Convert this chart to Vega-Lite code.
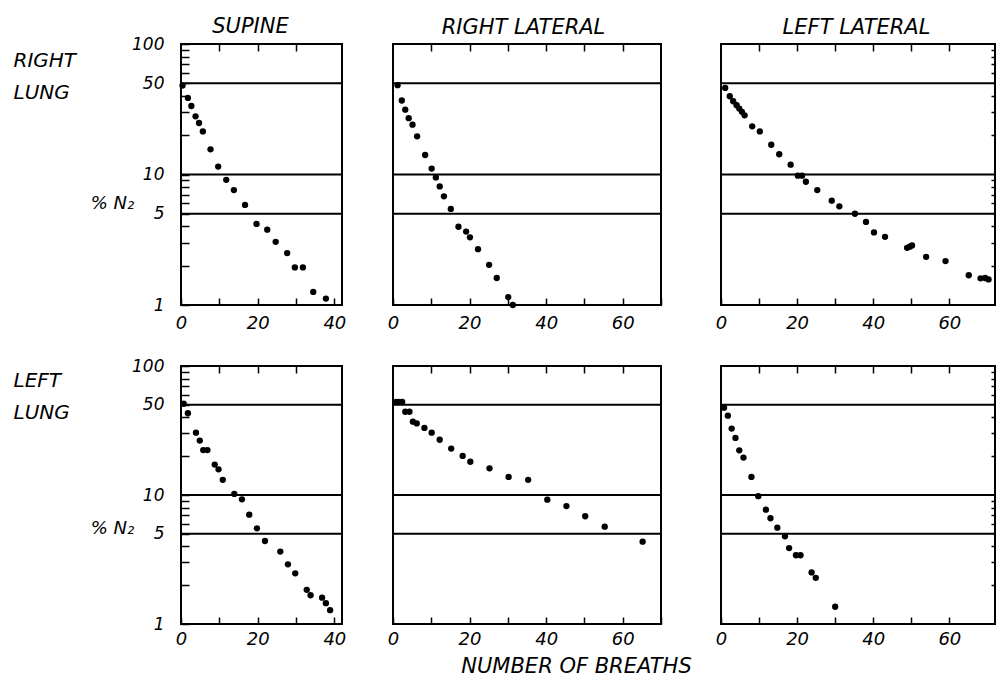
{
"$schema":"https://vega.github.io/schema/vega-lite/v6.json",
"padding":{"left":12,"top":14,"right":0,"bottom":0},
"background":"white",
"config":{
 "view":{"stroke":"black","strokeWidth":2},
 "font":"DejaVu Sans",
 "axis":{"domain":false,"grid":false,"labelFont":"DejaVu Sans","labelFontStyle":"italic","labelFontSize":17,"labelColor":"black","tickColor":"black","tickWidth":1.5,"titleFont":"DejaVu Sans","titleFontStyle":"italic","titleFontWeight":"normal","titleColor":"black","titleFontSize":20,"labelFlush":false,"labelOverlap":false,"titleAngle":0}
},
"datasets":{
 "levels":[{"level":50},{"level":10},{"level":5}],
 "r_sup":[{"breath":0.4,"n2":48},{"breath":1.8,"n2":38.6},{"breath":2.7,"n2":33.5},{"breath":3.8,"n2":27.9},{"breath":4.7,"n2":24.8},{"breath":5.7,"n2":21.4},{"breath":7.7,"n2":15.6},{"breath":9.7,"n2":11.5},{"breath":11.8,"n2":9.1},{"breath":13.8,"n2":7.6},{"breath":16.7,"n2":5.85},{"breath":19.7,"n2":4.18},{"breath":22.5,"n2":3.78},{"breath":24.7,"n2":3.05},{"breath":27.7,"n2":2.5},{"breath":29.7,"n2":1.94},{"breath":31.8,"n2":1.94},{"breath":34.5,"n2":1.26},{"breath":37.8,"n2":1.12}],
 "r_rl":[{"breath":1.2,"n2":48.4},{"breath":2.3,"n2":36.9},{"breath":3.2,"n2":31.4},{"breath":4.1,"n2":27},{"breath":5.1,"n2":24.1},{"breath":6.3,"n2":19.6},{"breath":8.4,"n2":14.1},{"breath":10.1,"n2":11.1},{"breath":11.2,"n2":9.5},{"breath":12.2,"n2":8.1},{"breath":13.3,"n2":6.8},{"breath":15.1,"n2":5.45},{"breath":17.1,"n2":3.98},{"breath":19.1,"n2":3.65},{"breath":20.1,"n2":3.3},{"breath":22.2,"n2":2.68},{"breath":25.1,"n2":2.03},{"breath":27.1,"n2":1.61},{"breath":30.1,"n2":1.15},{"breath":31.3,"n2":1.0}],
 "r_ll":[{"breath":1.1,"n2":46.1},{"breath":2.3,"n2":39.8},{"breath":3.2,"n2":36.4},{"breath":4.1,"n2":34.0},{"breath":4.8,"n2":32.0},{"breath":5.5,"n2":30.2},{"breath":6.2,"n2":28.4},{"breath":8.2,"n2":23.4},{"breath":10.2,"n2":21.4},{"breath":13.2,"n2":16.9},{"breath":15.3,"n2":14.3},{"breath":18.3,"n2":11.9},{"breath":20.2,"n2":9.8},{"breath":21.3,"n2":9.8},{"breath":22.3,"n2":8.8},{"breath":25.3,"n2":7.6},{"breath":29.1,"n2":6.3},{"breath":31.1,"n2":5.7},{"breath":35.2,"n2":5.0},{"breath":38.1,"n2":4.33},{"breath":40.2,"n2":3.6},{"breath":43.1,"n2":3.33},{"breath":48.9,"n2":2.74},{"breath":49.6,"n2":2.8},{"breath":50.2,"n2":2.86},{"breath":53.9,"n2":2.34},{"breath":59.0,"n2":2.17},{"breath":65.1,"n2":1.69},{"breath":68.2,"n2":1.6},{"breath":69.4,"n2":1.61},{"breath":70.3,"n2":1.57}],
 "l_sup":[{"breath":0.7,"n2":51},{"breath":1.8,"n2":43},{"breath":3.9,"n2":30.4},{"breath":4.9,"n2":26.4},{"breath":5.8,"n2":22.3},{"breath":6.9,"n2":22.3},{"breath":8.8,"n2":17.2},{"breath":9.8,"n2":15.8},{"breath":10.9,"n2":13.1},{"breath":13.9,"n2":10.2},{"breath":15.9,"n2":9.25},{"breath":17.8,"n2":7.04},{"breath":19.8,"n2":5.52},{"breath":21.9,"n2":4.4},{"breath":25.9,"n2":3.64},{"breath":27.9,"n2":2.9},{"breath":29.8,"n2":2.47},{"breath":32.8,"n2":1.84},{"breath":33.8,"n2":1.67},{"breath":36.8,"n2":1.6},{"breath":37.8,"n2":1.45},{"breath":38.9,"n2":1.28}],
 "l_rl":[{"breath":0.8,"n2":52.6},{"breath":1.5,"n2":52.6},{"breath":2.4,"n2":52.6},{"breath":3.2,"n2":44.2},{"breath":4.3,"n2":44.2},{"breath":5.2,"n2":37},{"breath":6.2,"n2":35.9},{"breath":8.2,"n2":33.1},{"breath":10.1,"n2":30.4},{"breath":12.2,"n2":26.8},{"breath":15.2,"n2":22.9},{"breath":18.2,"n2":20.1},{"breath":20.2,"n2":18.1},{"breath":25.2,"n2":16.1},{"breath":30.2,"n2":13.8},{"breath":35.3,"n2":13.1},{"breath":40.3,"n2":9.2},{"breath":45.3,"n2":8.2},{"breath":50.2,"n2":6.84},{"breath":55.3,"n2":5.68},{"breath":65.2,"n2":4.35}],
 "l_ll":[{"breath":0.8,"n2":47.5},{"breath":1.8,"n2":41.2},{"breath":2.8,"n2":32.7},{"breath":3.8,"n2":27.7},{"breath":4.8,"n2":22.2},{"breath":5.9,"n2":19.5},{"breath":8.0,"n2":13.8},{"breath":9.8,"n2":9.8},{"breath":11.8,"n2":7.7},{"breath":13.0,"n2":6.6},{"breath":14.8,"n2":5.58},{"breath":16.8,"n2":4.79},{"breath":17.9,"n2":3.88},{"breath":19.7,"n2":3.41},{"breath":20.9,"n2":3.41},{"breath":23.8,"n2":2.51},{"breath":24.9,"n2":2.28},{"breath":30.0,"n2":1.36}]
},
"vconcat":[
 {"hconcat":[
  {"width":161,"height":261,
   "layer":[
    {"data":{"name":"levels"},"mark":{"type":"rule","color":"black","strokeWidth":2},
     "encoding":{
      "y":{"field":"level","type":"quantitative","scale":{"type":"log","domain":[1,100],"nice":false},"axis":{"orient":"left","ticks":false,"labels":false,"title":["RIGHT","LUNG"],"titleX":-168,"titleY":6,"titleAlign":"left","titleBaseline":"top","titleLineHeight":32,"titleFontSize":20}},
      "x":{"datum":0,"type":"quantitative","scale":{"domain":[0,42],"nice":false,"zero":false},"axis":{"orient":"top","values":[10,20,30],"labels":false,"tickSize":-7,"title":"SUPINE","titleX":69,"titleY":-12,"titleAlign":"center","titleBaseline":"alphabetic","titleFontSize":21}},
      "x2":{"datum":42}}},
    {"data":{"name":"r_sup"},"mark":{"type":"circle","size":40,"color":"black","opacity":1},
     "encoding":{
      "x":{"field":"breath","type":"quantitative","axis":{"orient":"bottom","values":[0,10,20,30,40],"labelExpr":"datum.value % 20 == 0 ? datum.value + '' : ''","tickSize":-7,"labelPadding":16,"labelFontSize":18,"title":null}},
      "y":{"field":"n2","type":"quantitative","axis":{"orient":"left","values":[1,2,3,4,5,6,7,8,9,10,20,30,40,50,60,70,80,90,100],"labelExpr":"indexof([1,5,10,50,100], datum.value) >= 0 ? datum.value + '' : ''","tickSize":-8,"labelPadding":25,"labelBaseline":"middle","title":"% N₂","titleX":-69,"titleY":164,"titleAlign":"center","titleBaseline":"alphabetic","titleFontSize":18}}}}
   ],
   "resolve":{"axis":{"x":"independent","y":"independent"}}},
  {"hconcat":[
   {"width":268,"height":261,
    "layer":[
     {"data":{"name":"levels"},"mark":{"type":"rule","color":"black","strokeWidth":2},
      "encoding":{
       "y":{"field":"level","type":"quantitative","scale":{"type":"log","domain":[1,100],"nice":false},"axis":null},
       "x":{"datum":0,"type":"quantitative","scale":{"domain":[0,70],"nice":false,"zero":false},"axis":{"orient":"top","values":[10,20,30,40,50,60],"labels":false,"tickSize":-7,"title":"RIGHT LATERAL","titleX":130,"titleY":-11,"titleAlign":"center","titleBaseline":"alphabetic","titleFontSize":21}},
       "x2":{"datum":70}}},
     {"data":{"name":"r_rl"},"mark":{"type":"circle","size":40,"color":"black","opacity":1},
      "encoding":{
       "x":{"field":"breath","type":"quantitative","axis":{"orient":"bottom","values":[0,10,20,30,40,50,60,70],"labelExpr":"datum.value % 20 == 0 ? datum.value + '' : ''","tickSize":-7,"labelPadding":16,"labelFontSize":18,"title":null}},
       "y":{"field":"n2","type":"quantitative","axis":null}}}
    ],
    "resolve":{"axis":{"x":"independent","y":"independent"}}},
   {"width":274,"height":261,
    "layer":[
     {"data":{"name":"levels"},"mark":{"type":"rule","color":"black","strokeWidth":2},
      "encoding":{
       "y":{"field":"level","type":"quantitative","scale":{"type":"log","domain":[1,100],"nice":false},"axis":null},
       "x":{"datum":0,"type":"quantitative","scale":{"domain":[0,72],"nice":false,"zero":false},"axis":{"orient":"top","values":[10,20,30,40,50,60],"labels":false,"tickSize":-7,"title":"LEFT LATERAL","titleX":135,"titleY":-11,"titleAlign":"center","titleBaseline":"alphabetic","titleFontSize":21}},
       "x2":{"datum":72}}},
     {"data":{"name":"r_ll"},"mark":{"type":"circle","size":40,"color":"black","opacity":1},
      "encoding":{
       "x":{"field":"breath","type":"quantitative","axis":{"orient":"bottom","values":[0,10,20,30,40,50,60],"labelExpr":"datum.value % 20 == 0 ? datum.value + '' : ''","tickSize":-7,"labelPadding":16,"labelFontSize":18,"title":null}},
       "y":{"field":"n2","type":"quantitative","axis":{"orient":"right","values":[2,3,4,6,7,8,9,20,30,40,60,70,80,90],"labels":false,"tickSize":-4,"title":null}}}}
    ],
    "resolve":{"axis":{"x":"independent","y":"independent"}}}
  ],"spacing":60,"bounds":"flush"}
 ],"spacing":51,"bounds":"flush"},
 {"hconcat":[
  {"width":161,"height":258,
   "layer":[
    {"data":{"name":"levels"},"mark":{"type":"rule","color":"black","strokeWidth":2},
     "encoding":{
      "y":{"field":"level","type":"quantitative","scale":{"type":"log","domain":[1,100],"nice":false},"axis":{"orient":"left","ticks":false,"labels":false,"title":["LEFT","LUNG"],"titleX":-168,"titleY":4,"titleAlign":"left","titleBaseline":"top","titleLineHeight":32,"titleFontSize":20}},
      "x":{"datum":0,"type":"quantitative","scale":{"domain":[0,42],"nice":false,"zero":false},"axis":{"orient":"top","values":[10,20,30],"labels":false,"tickSize":-7,"title":null}},
      "x2":{"datum":42}}},
    {"data":{"name":"l_sup"},"mark":{"type":"circle","size":40,"color":"black","opacity":1},
     "encoding":{
      "x":{"field":"breath","type":"quantitative","axis":{"orient":"bottom","values":[0,10,20,30,40],"labelExpr":"datum.value % 20 == 0 ? datum.value + '' : ''","tickSize":-7,"labelPadding":13,"labelFontSize":18,"title":null}},
      "y":{"field":"n2","type":"quantitative","axis":{"orient":"left","values":[1,2,3,4,5,6,7,8,9,10,20,30,40,50,60,70,80,90,100],"labelExpr":"indexof([1,5,10,50,100], datum.value) >= 0 ? datum.value + '' : ''","tickSize":-8,"labelPadding":25,"labelBaseline":"middle","title":"% N₂","titleX":-69,"titleY":167,"titleAlign":"center","titleBaseline":"alphabetic","titleFontSize":18}}}}
   ],
   "resolve":{"axis":{"x":"independent","y":"independent"}}},
  {"hconcat":[
   {"width":268,"height":258,
    "layer":[
     {"data":{"name":"levels"},"mark":{"type":"rule","color":"black","strokeWidth":2},
      "encoding":{
       "y":{"field":"level","type":"quantitative","scale":{"type":"log","domain":[1,100],"nice":false},"axis":null},
       "x":{"datum":0,"type":"quantitative","scale":{"domain":[0,70],"nice":false,"zero":false},"axis":{"orient":"top","values":[10,20,30,40,50,60],"labels":false,"tickSize":-7,"title":null}},
       "x2":{"datum":70}}},
     {"data":{"name":"l_rl"},"mark":{"type":"circle","size":40,"color":"black","opacity":1},
      "encoding":{
       "x":{"field":"breath","type":"quantitative","axis":{"orient":"bottom","values":[0,10,20,30,40,50,60,70],"labelExpr":"datum.value % 20 == 0 ? datum.value + '' : ''","tickSize":-7,"labelPadding":13,"labelFontSize":18,"title":"NUMBER OF BREATHS","titleX":183,"titleY":48,"titleAlign":"center","titleBaseline":"alphabetic","titleFontSize":21}},
       "y":{"field":"n2","type":"quantitative","axis":null}}}
    ],
    "resolve":{"axis":{"x":"independent","y":"independent"}}},
   {"width":274,"height":258,
    "layer":[
     {"data":{"name":"levels"},"mark":{"type":"rule","color":"black","strokeWidth":2},
      "encoding":{
       "y":{"field":"level","type":"quantitative","scale":{"type":"log","domain":[1,100],"nice":false},"axis":null},
       "x":{"datum":0,"type":"quantitative","scale":{"domain":[0,72],"nice":false,"zero":false},"axis":{"orient":"top","values":[10,20,30,40,50,60],"labels":false,"tickSize":-7,"title":null}},
       "x2":{"datum":72}}},
     {"data":{"name":"l_ll"},"mark":{"type":"circle","size":40,"color":"black","opacity":1},
      "encoding":{
       "x":{"field":"breath","type":"quantitative","axis":{"orient":"bottom","values":[0,10,20,30,40,50,60],"labelExpr":"datum.value % 20 == 0 ? datum.value + '' : ''","tickSize":-7,"labelPadding":13,"labelFontSize":18,"title":null}},
       "y":{"field":"n2","type":"quantitative","axis":{"orient":"right","values":[2,3,4,6,7,8,9,20,30,40,60,70,80,90],"labels":false,"tickSize":-4,"title":null}}}}
    ],
    "resolve":{"axis":{"x":"independent","y":"independent"}}}
  ],"spacing":60,"bounds":"flush"}
 ],"spacing":51,"bounds":"flush"}
],
"spacing":23
}
